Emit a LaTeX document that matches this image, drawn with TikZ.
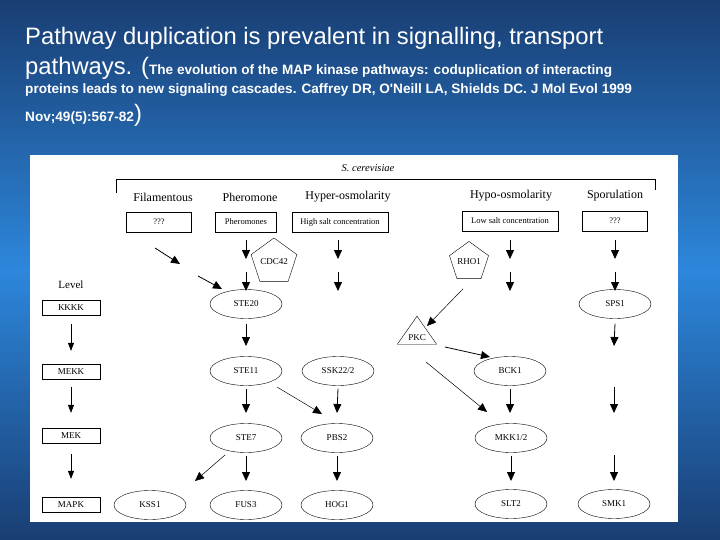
\documentclass[tikz,border=0pt]{standalone}
\usepackage{fontspec}
\setmainfont{Liberation Serif}
\newfontfamily\arialf{Liberation Sans}
\usetikzlibrary{arrows.meta,shapes.geometric}
\definecolor{bgdark}{RGB}{25,62,115}
\definecolor{bgmid}{RGB}{45,135,220}
\begin{document}
\begin{tikzpicture}[x=1pt,y=-1pt,
  el/.style={draw,ellipse,minimum width=72pt,minimum height=29pt,inner sep=0pt,font=\fontsize{9}{10}\selectfont},
  bx/.style={draw,thick,minimum height=20pt,inner sep=1pt,font=\fontsize{8.5}{9}\selectfont},
  lv/.style={draw,thick,minimum width=58pt,minimum height=15pt,inner sep=0pt,font=\fontsize{9}{10}\selectfont},
  hd/.style={font=\fontsize{12}{13}\selectfont},
  pent/.style={draw,regular polygon,regular polygon sides=5,minimum size=32pt,inner sep=0pt,font=\fontsize{9}{10}\selectfont},
  tri/.style={draw,isosceles triangle,shape border rotate=90,isosceles triangle apex angle=70,minimum height=28pt,inner sep=1pt,font=\fontsize{9}{10}\selectfont},
  ar/.style={-{Triangle[width=8pt,length=9pt]},line width=0.8pt},
  thin/.style={-{Triangle[width=6pt,length=8pt]},line width=0.6pt}]
\useasboundingbox (0,0) rectangle (720,540);
\shade[top color=bgdark,bottom color=bgdark,middle color=bgmid] (0,0) rectangle (720,540);
\node[anchor=base west,text=white,font=\arialf\fontsize{23.8}{26}\selectfont,inner sep=0pt] (t1) at (25,45) {Pathway duplication is prevalent in signalling, transport};
\node[anchor=base west,text=white,inner sep=0pt] (t2) at (25,75) {\arialf\fontsize{23.8}{26}\selectfont pathways. (\bfseries\fontsize{13.6}{15}\selectfont The evolution of the MAP kinase pathways: coduplication of interacting};
\node[anchor=base west,text=white,font=\arialf\bfseries\fontsize{13.6}{15}\selectfont,inner sep=0pt] (t3) at (25,94) {proteins leads to new signaling cascades. Caffrey DR, O'Neill LA, Shields DC. J Mol Evol 1999};
\node[anchor=base west,text=white,inner sep=0pt] (t4) at (25,122) {\arialf\bfseries\fontsize{13.6}{15}\selectfont Nov;49(5):567-82\mdseries\fontsize{23.8}{26}\selectfont)};
\fill[white] (30,155) rectangle (678,522);
\node[font=\itshape\fontsize{10.5}{11}\selectfont] (sc) at (368,168) {S. cerevisiae};
\draw (116,193) -- (116,179) -- (655,179) -- (655,190);
\node[hd] (h1) at (163,197) {Filamentous};
\node[hd] (h2) at (250,197) {Pheromone};
\node[hd] (h3) at (348,197) {Hyper-osmolarity};
\node[hd] (h4) at (511,196) {Hypo-osmolarity};
\node[hd] (h5) at (615,196) {Sporulation};
\node[bx,minimum width=65pt] (b1) at (159,222) {???};
\node[bx,minimum width=61pt] (b2) at (246,222) {Pheromones};
\node[bx,minimum width=96pt] (b3) at (340,222) {High salt concentration};
\node[bx,minimum width=96pt] (b4) at (510,221) {Low salt concentration};
\node[bx,minimum width=65pt] (b5) at (615,221) {???};
\node[font=\fontsize{11}{12}\selectfont] (lvl) at (71,285) {Level};
\node[lv] (L1) at (71,308) {KKKK};
\node[lv] (L2) at (71,372) {MEKK};
\node[lv] (L3) at (71,436) {MEK};
\node[lv] (L4) at (71,505) {MAPK};
\draw[thin] (L1.south)++(0,8) coordinate (l1a) -- ++(0,27);
\draw[thin] (L2.south)++(0,7) -- ++(0,26);
\draw[thin] (L3.south)++(0,10) -- ++(0,25);
\node[pent] (cdc) at (274,262) {CDC42};
\node[pent] (rho) at (469,262) {RHO1};
\node[el] (ste20) at (246,304) {STE20};
\node[el] (sps1) at (615,304) {SPS1};
\node[tri] (pkc) at (417,338) {PKC};
\node[el] (ste11) at (246,371) {STE11};
\node[el] (ssk) at (338,371) {SSK22/2};
\node[el] (bck1) at (510,371) {BCK1};
\node[el] (ste7) at (246,438) {STE7};
\node[el] (pbs2) at (337,438) {PBS2};
\node[el] (mkk) at (511,438) {MKK1/2};
\node[el] (kss1) at (150,505) {KSS1};
\node[el] (fus3) at (246,505) {FUS3};
\node[el] (hog1) at (337,505) {HOG1};
\node[el] (slt2) at (511,504) {SLT2};
\node[el] (smk1) at (614,504) {SMK1};
% column arrows
\foreach \x in {246,338,510,615}{
  \draw[ar] (\x,240) -- (\x,259);
  \draw[ar] (\x,272) -- (\x,291);}
\draw[ar] (155,248) -- (180,264);
\draw[ar] (198,276) -- (222,289);
\draw[ar] (ste20.south)++(0,5) -- (246,346);
\draw[ar] (sps1.south)++(0,5) -- (614,346);
\draw[ar] (614,387) -- (614,413);
\draw[ar] (ste11.south)++(0,3) -- (246,413);
\draw[ar] (ssk.south)++(0,3) -- (337,413);
\draw[ar] (bck1.south)++(0,3) -- (510,413);
\draw[ar,line width=0.5pt] (277,387) -- (322,414);
\draw[ar,line width=0.5pt] (rho.south)++(-6,10) -- (427,326);
\draw[ar] (445,347) -- (490,357);
\draw[ar,line width=0.5pt] (426,362) -- (487,412);
\draw[ar] (ste7.south)++(0,3) -- (246,481);
\draw[ar] (pbs2.south)++(0,3) -- (337,481);
\draw[ar] (mkk.south)++(0,3) -- (511,481);
\draw[ar] (614,455) -- (614,481);
\draw[ar,line width=0.5pt] (225,455) -- (195,481);
\end{tikzpicture}
\end{document}
